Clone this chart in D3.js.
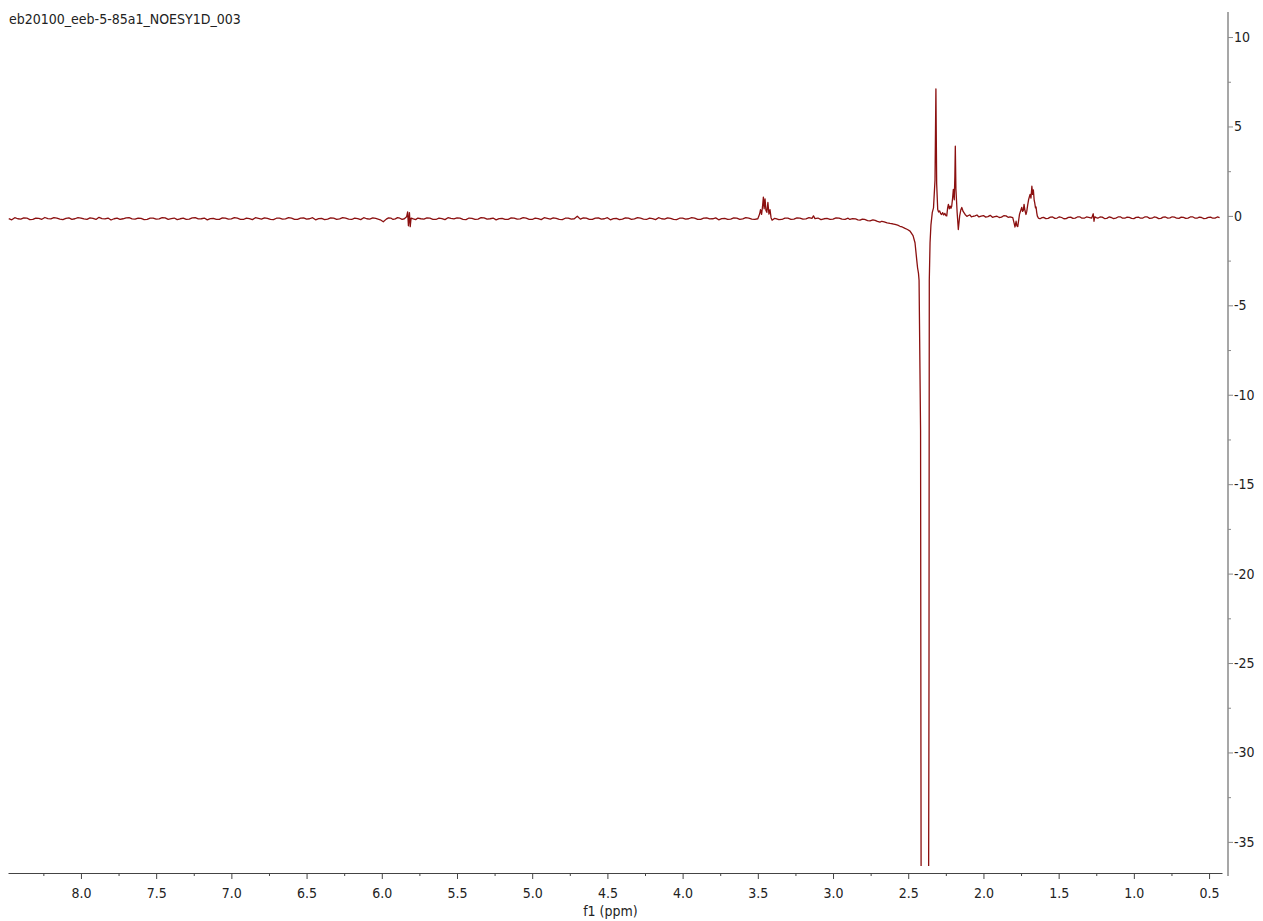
<!DOCTYPE html>
<html><head><meta charset="utf-8">
<script src="https://cdn.jsdelivr.net/npm/d3@7"></script>
<style>
body{margin:0;background:#fff}
svg{display:block}
text{font-family:"DejaVu Sans Condensed","DejaVu Sans",sans-serif;font-stretch:condensed}
</style>
</head><body>
<svg id="chart" width="1263" height="921"></svg>
<script>
// ---------------- data ----------------
const title = "eb20100_eeb-5-85a1_NOESY1D_003";
const xLabel = "f1 (ppm)";
const xTickValues = [8.0,7.5,7.0,6.5,6.0,5.5,5.0,4.5,4.0,3.5,3.0,2.5,2.0,1.5,1.0,0.5];
const xMinorTickValues = [8.25,7.75,7.25,6.75,6.25,5.75,5.25,4.75,4.25,3.75,3.25,2.75,2.25,1.75,1.25,0.75];
const yTickValues = [10,5,0,-5,-10,-15,-20,-25,-30,-35];
const yMinorTickValues = [7.5,2.5,-2.5,-7.5,-12.5,-17.5,-22.5,-27.5,-32.5];
const xDomain = [8.485, 0.414];
const yDomain = [-36.74, 11.4];

// spectrum trace: [ppm, intensity]
const spectrum = [
[8.48,-0.15],[8.46,-0.22],[8.44,-0.10],[8.42,-0.16],[8.40,-0.18],[8.38,-0.11],[8.36,-0.12],[8.34,-0.21],[8.32,-0.20],[8.30,-0.13],[8.28,-0.14],[8.26,-0.19],[8.24,-0.09],[8.22,-0.15],[8.20,-0.17],[8.18,-0.10],
[8.16,-0.13],[8.14,-0.18],[8.12,-0.21],[8.10,-0.14],[8.08,-0.11],[8.06,-0.19],[8.04,-0.16],[8.02,-0.10],[8.00,-0.12],[7.98,-0.17],[7.96,-0.19],[7.94,-0.11],[7.92,-0.14],[7.90,-0.20],[7.88,-0.08],[7.86,-0.15],
[7.84,-0.17],[7.82,-0.12],[7.80,-0.23],[7.78,-0.16],[7.76,-0.13],[7.74,-0.20],[7.72,-0.16],[7.70,-0.11],[7.68,-0.10],[7.66,-0.17],[7.64,-0.18],[7.62,-0.12],[7.60,-0.14],[7.58,-0.21],[7.56,-0.20],[7.54,-0.13],
[7.52,-0.12],[7.50,-0.18],[7.48,-0.17],[7.46,-0.10],[7.44,-0.11],[7.42,-0.19],[7.40,-0.15],[7.38,-0.12],[7.36,-0.21],[7.34,-0.16],[7.32,-0.13],[7.30,-0.20],[7.28,-0.18],[7.26,-0.11],[7.24,-0.10],[7.22,-0.17],
[7.20,-0.16],[7.18,-0.12],[7.16,-0.22],[7.14,-0.15],[7.12,-0.14],[7.10,-0.20],[7.08,-0.19],[7.06,-0.11],[7.04,-0.12],[7.02,-0.18],[7.00,-0.17],[6.98,-0.10],[6.96,-0.13],[6.94,-0.19],[6.92,-0.20],[6.90,-0.12],
[6.88,-0.15],[6.86,-0.21],[6.84,-0.10],[6.82,-0.14],[6.80,-0.18],[6.78,-0.11],[6.76,-0.14],[6.74,-0.20],[6.72,-0.21],[6.70,-0.13],[6.68,-0.12],[6.66,-0.18],[6.64,-0.17],[6.62,-0.10],[6.60,-0.13],[6.58,-0.20],
[6.56,-0.19],[6.54,-0.12],[6.52,-0.11],[6.50,-0.18],[6.48,-0.16],[6.46,-0.10],[6.44,-0.22],[6.42,-0.15],[6.40,-0.14],[6.38,-0.21],[6.36,-0.18],[6.34,-0.11],[6.32,-0.12],[6.30,-0.19],[6.28,-0.17],[6.26,-0.10],
[6.24,-0.13],[6.22,-0.18],[6.20,-0.20],[6.18,-0.12],[6.16,-0.15],[6.14,-0.21],[6.12,-0.10],[6.10,-0.16],[6.08,-0.18],[6.06,-0.11],[6.04,-0.14],[6.02,-0.19],[6.01,-0.22],[5.99,-0.33],
[5.97,-0.18],[5.955,-0.11],[5.94,-0.12],[5.925,-0.20],[5.91,-0.17],[5.895,-0.10],[5.88,-0.13],[5.865,-0.19],[5.85,-0.16],[5.835,-0.05],[5.828,0.22],[5.823,-0.55],
[5.816,0.18],[5.811,-0.60],[5.805,-0.12],[5.79,-0.17],[5.775,-0.21],[5.76,-0.12],[5.74,-0.16],[5.72,-0.18],[5.70,-0.11],[5.68,-0.13],[5.66,-0.19],[5.64,-0.20],[5.62,-0.12],
[5.60,-0.15],[5.58,-0.21],[5.56,-0.10],[5.54,-0.14],[5.52,-0.17],[5.50,-0.11],[5.48,-0.13],[5.46,-0.19],[5.44,-0.21],[5.42,-0.12],[5.40,-0.14],[5.38,-0.20],[5.36,-0.18],[5.34,-0.10],[5.32,-0.11],[5.30,-0.18],
[5.28,-0.16],[5.26,-0.12],[5.24,-0.22],[5.22,-0.15],[5.20,-0.14],[5.18,-0.20],[5.16,-0.19],[5.14,-0.11],[5.12,-0.12],[5.10,-0.18],[5.08,-0.17],[5.06,-0.10],[5.04,-0.13],[5.02,-0.19],[5.00,-0.20],[4.98,-0.12],
[4.96,-0.15],[4.94,-0.21],[4.92,-0.10],[4.90,-0.14],[4.88,-0.18],[4.86,-0.11],[4.84,-0.14],[4.82,-0.20],[4.80,-0.21],[4.78,-0.13],[4.76,-0.12],[4.74,-0.18],[4.72,-0.16],[4.70,-0.02],
[4.68,-0.18],[4.66,-0.11],[4.64,-0.13],[4.62,-0.20],[4.60,-0.19],[4.58,-0.12],[4.56,-0.11],[4.54,-0.18],[4.52,-0.16],[4.50,-0.10],[4.48,-0.22],[4.46,-0.15],[4.44,-0.14],[4.42,-0.21],[4.40,-0.18],[4.38,-0.11],
[4.36,-0.12],[4.34,-0.19],[4.32,-0.17],[4.30,-0.10],[4.28,-0.13],[4.26,-0.18],[4.24,-0.20],[4.22,-0.12],[4.20,-0.15],[4.18,-0.21],[4.16,-0.10],[4.14,-0.16],[4.12,-0.18],[4.10,-0.11],[4.08,-0.14],[4.06,-0.19],
[4.04,-0.21],[4.02,-0.13],[4.00,-0.12],[3.98,-0.18],[3.96,-0.16],[3.94,-0.10],[3.92,-0.13],[3.90,-0.20],[3.88,-0.19],[3.86,-0.12],[3.84,-0.11],[3.82,-0.17],[3.80,-0.16],[3.78,-0.11],[3.76,-0.22],[3.74,-0.15],
[3.72,-0.14],[3.70,-0.20],[3.68,-0.18],[3.66,-0.11],[3.64,-0.12],[3.62,-0.19],[3.60,-0.17],[3.58,-0.10],[3.56,-0.13],[3.54,-0.18],[3.52,-0.20],[3.50,-0.16],
[3.488,0.10],[3.482,0.35],[3.475,0.08],[3.469,0.50],[3.463,1.05],[3.458,0.40],[3.452,0.95],[3.446,0.30],
[3.440,0.20],[3.433,0.75],[3.426,0.10],[3.419,0.35],[3.412,-0.10],[3.405,-0.24],
[3.39,-0.14],[3.38,-0.15],[3.36,-0.21],[3.34,-0.20],[3.32,-0.12],[3.30,-0.13],[3.28,-0.19],[3.26,-0.18],[3.24,-0.11],[3.22,-0.12],[3.20,-0.18],[3.18,-0.17],[3.16,-0.10],[3.14,-0.14],[3.13,0.00],
[3.12,-0.15],[3.10,-0.12],[3.08,-0.21],[3.06,-0.16],[3.04,-0.14],[3.02,-0.20],[3.00,-0.18],[2.98,-0.11],[2.96,-0.12],[2.94,-0.18],[2.92,-0.19],[2.90,-0.13],[2.888,-0.20],[2.87,-0.15],[2.85,-0.17],
[2.835,-0.22],[2.82,-0.24],[2.805,-0.18],[2.79,-0.20],[2.77,-0.26],[2.754,-0.28],[2.735,-0.22],[2.72,-0.25],[2.705,-0.31],[2.688,-0.35],[2.675,-0.30],[2.66,-0.33],[2.64,-0.39],[2.621,-0.42],[2.605,-0.44],[2.588,-0.48],
[2.57,-0.52],[2.555,-0.58],[2.54,-0.62],[2.521,-0.70],[2.505,-0.76],[2.488,-0.85],[2.468,-1.1],[2.455,-1.5],[2.443,-2.5],[2.438,-2.9],[2.432,-3.2],
[2.428,-3.6],[2.418,-12],[2.414,-40],[2.392,-70],[2.365,-40],[2.362,-25],[2.360,-3.6],[2.355,-1.5],
[2.349,-0.5],[2.340,0.2],[2.332,0.45],[2.322,2.0],[2.316,7.1],[2.311,1.8],[2.304,0.36],[2.298,0.22],
[2.291,0.28],[2.284,0.12],[2.278,0.08],[2.271,0.18],[2.264,0.05],[2.257,0.14],[2.250,0.02],[2.244,0.00],
[2.238,0.45],[2.233,0.64],[2.227,0.40],[2.221,0.55],[2.216,0.42],[2.211,0.54],[2.205,1.0],[2.200,1.48],
[2.194,0.9],[2.190,2.2],[2.187,3.9],[2.183,1.5],[2.175,0.2],[2.167,-0.76],[2.158,0.0],[2.150,0.35],
[2.144,0.47],[2.135,0.25],[2.122,0.08],[2.11,-0.03],[2.10,0.02],[2.09,0.06],[2.08,-0.05],[2.068,-0.02],[2.056,0.0],[2.043,0.05],[2.03,-0.06],[2.015,-0.01],[2.00,0.02],
[1.985,-0.07],[1.97,-0.04],[1.955,0.03],[1.94,-0.08],[1.925,-0.04],[1.91,-0.02],[1.895,-0.09],[1.88,-0.07],[1.865,0.01],[1.85,0.0],[1.836,-0.08],[1.823,-0.05],[1.805,-0.1],[1.795,-0.45],
[1.790,-0.62],[1.783,-0.3],[1.778,-0.55],[1.772,-0.6],[1.766,-0.25],[1.760,0.1],[1.752,0.3],[1.745,0.48],
[1.740,0.25],[1.735,0.3],[1.730,0.64],[1.724,0.3],[1.717,0.08],[1.712,0.25],[1.706,0.6],[1.700,0.9],
[1.690,1.2],[1.684,1.0],[1.678,1.66],[1.673,1.2],[1.668,1.45],[1.663,0.9],[1.659,0.73],[1.654,0.45],
[1.650,0.5],[1.646,0.2],[1.642,0.0],[1.635,-0.12],[1.624,-0.16],[1.61,-0.10],[1.60,-0.08],[1.585,-0.15],[1.57,-0.14],[1.555,-0.07],[1.54,-0.06],[1.525,-0.14],
[1.51,-0.12],[1.495,-0.05],[1.48,-0.09],[1.465,-0.16],[1.45,-0.15],[1.435,-0.08],[1.42,-0.07],[1.405,-0.14],[1.39,-0.12],[1.375,-0.06],[1.36,-0.05],[1.345,-0.13],[1.33,-0.13],[1.315,-0.06],[1.30,-0.08],
[1.28,-0.12],[1.27,0.12],[1.265,-0.3],[1.26,-0.05],[1.25,-0.10],[1.24,-0.13],[1.225,-0.06],[1.21,-0.07],[1.195,-0.15],[1.18,-0.14],[1.165,-0.06],[1.15,-0.09],[1.135,-0.15],
[1.12,-0.12],[1.105,-0.06],[1.09,-0.05],[1.075,-0.13],[1.06,-0.13],[1.045,-0.07],[1.03,-0.08],[1.015,-0.14],[1.00,-0.15],[0.985,-0.08],[0.97,-0.07],[0.955,-0.13],[0.94,-0.12],[0.925,-0.05],[0.91,-0.06],
[0.895,-0.14],[0.88,-0.13],[0.865,-0.06],[0.85,-0.08],[0.835,-0.15],[0.82,-0.14],[0.805,-0.07],[0.79,-0.06],[0.775,-0.12],[0.76,-0.11],[0.745,-0.05],[0.73,-0.07],[0.715,-0.13],[0.70,-0.14],[0.685,-0.07],[0.67,-0.08],
[0.655,-0.14],[0.64,-0.12],[0.625,-0.06],[0.61,-0.05],[0.595,-0.12],[0.58,-0.13],[0.565,-0.07],[0.55,-0.09],[0.535,-0.15],[0.52,-0.14],[0.505,-0.08],[0.49,-0.07],[0.475,-0.13],[0.46,-0.12],[0.445,-0.06],[0.43,-0.10]
];

// ---------------- drawing ----------------
const svg = d3.select("#chart");
const x = d3.scaleLinear().domain(xDomain).range([8, 1222]);
const y = d3.scaleLinear().domain(yDomain).range([873, 12]);

svg.append("text").attr("x", 9).attr("y", 24)
  .attr("font-size", 14).attr("fill", "#222").text(title);

svg.append("defs").append("clipPath").attr("id", "plotclip")
  .append("rect").attr("x", 8).attr("y", 12).attr("width", 1214).attr("height", 854);

// x axis
const gx = svg.append("g").attr("transform", "translate(0,873)");
gx.call(d3.axisBottom(x).tickValues(xTickValues).tickFormat(d3.format(".1f"))
  .tickSize(6).tickSizeOuter(0).tickPadding(9));
const gxm = svg.append("g").attr("transform", "translate(0,873)");
gxm.call(d3.axisBottom(x).tickValues(xMinorTickValues).tickFormat("").tickSize(3).tickSizeOuter(0));
gxm.select(".domain").remove();
[gx, gxm].forEach(g => {
  g.select(".domain").attr("stroke", "#444");
  g.selectAll(".tick line").attr("stroke", "#444");
});
gx.selectAll(".tick text").attr("font-size", 14).attr("fill", "#222")
  .attr("font-family", "'DejaVu Sans Condensed','DejaVu Sans',sans-serif");

svg.append("text").attr("x", x(4.48)).attr("y", 916).attr("text-anchor", "middle")
  .attr("font-size", 14).attr("fill", "#222").text(xLabel);

// y axis
const gy = svg.append("g").attr("transform", "translate(1228,0)");
gy.call(d3.axisRight(y).tickValues(yTickValues).tickFormat(d => d3.format("d")(d).replace("−", "-"))
  .tickSize(5).tickSizeOuter(0).tickPadding(1));
gy.select(".domain").attr("stroke", "#8a8a8a").attr("stroke-width", 1.5)
  .attr("d", "M0,12V876");
gy.selectAll(".tick line").attr("stroke", "#8a8a8a");
gy.selectAll(".tick text").attr("font-size", 14).attr("fill", "#222")
  .attr("font-family", "'DejaVu Sans Condensed','DejaVu Sans',sans-serif");
const gym = svg.append("g").attr("transform", "translate(1228,0)");
gym.call(d3.axisRight(y).tickValues(yMinorTickValues).tickFormat("").tickSize(3).tickSizeOuter(0));
gym.select(".domain").remove();
gym.selectAll(".tick line").attr("stroke", "#8a8a8a");

// spectrum
const line = d3.line().x(d => x(d[0])).y(d => y(d[1]));
svg.append("g").attr("clip-path", "url(#plotclip)")
  .append("path").datum(spectrum)
  .attr("d", line).attr("fill", "none")
  .attr("stroke", "#8b1010").attr("stroke-width", 1.3).attr("stroke-linejoin", "round");
</script>
</body></html>
